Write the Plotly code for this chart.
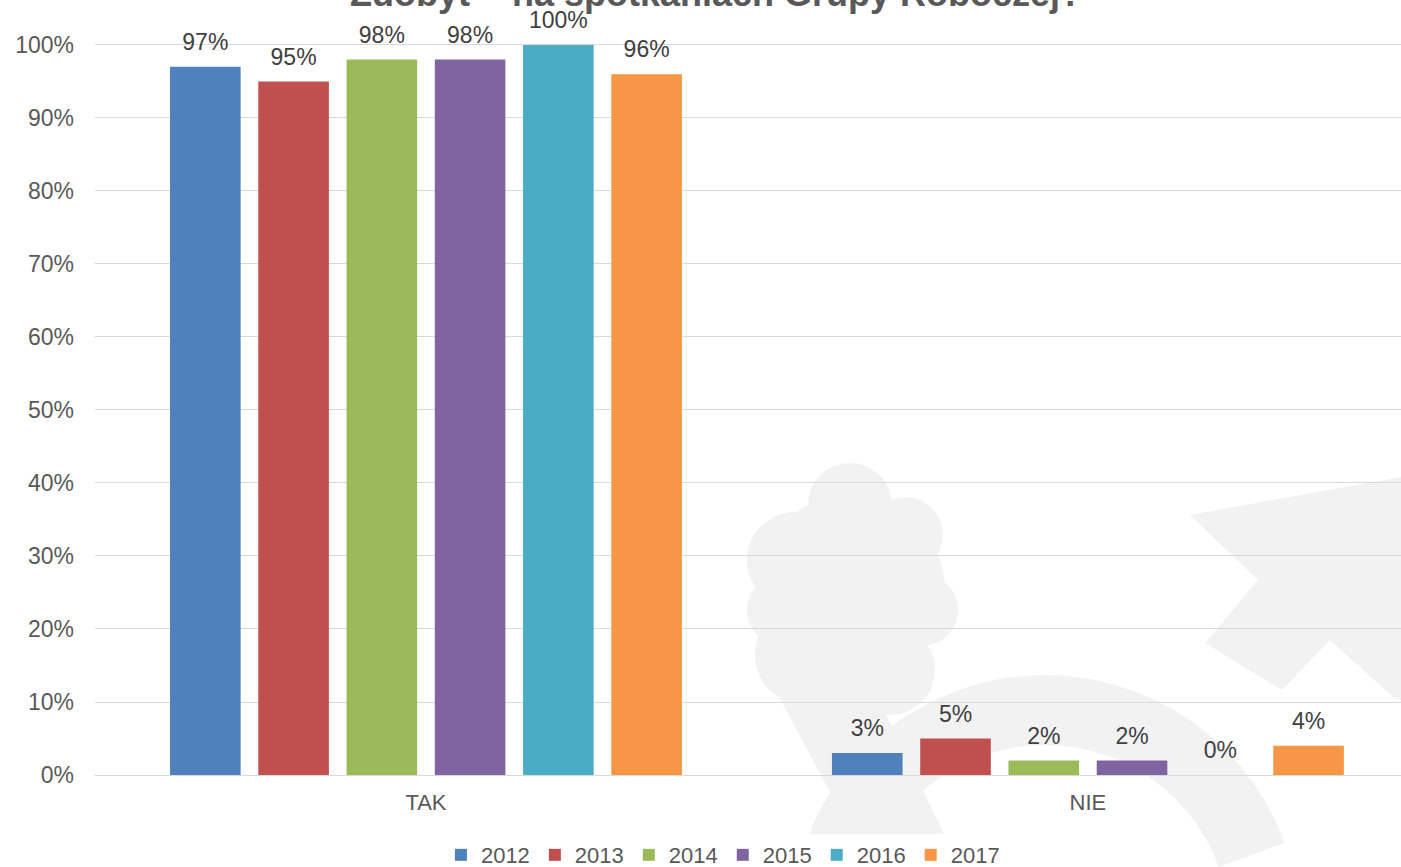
import math
import plotly.graph_objects as go

categories = ["TAK", "NIE"]
years = ["2012", "2013", "2014", "2015", "2016", "2017"]
values = {
    "2012": [0.97, 0.03],
    "2013": [0.95, 0.05],
    "2014": [0.98, 0.02],
    "2015": [0.98, 0.02],
    "2016": [1.00, 0.00],
    "2017": [0.96, 0.04],
}
colors = ["#4F81BD", "#C0504D", "#9BBB59", "#8064A2", "#4BACC6", "#F79646"]
title_text = "Zdobyt  - na spotkaniach Grupy Roboczej?"

FONT = "Liberation Sans, Arial, sans-serif"
TXT = "#595959"
LABEL_PAD = 0.012  # transparent spacer so value labels sit a little higher
Y_TOP = 1.015

fig = go.Figure()
for yr, col in zip(years, colors):
    vals = values[yr]
    fig.add_trace(go.Bar(
        name=yr, x=categories, y=vals, offsetgroup=yr,
        marker=dict(color=col, line=dict(width=0)),
        hoverinfo="y",
    ))
    fig.add_trace(go.Bar(
        name=yr, x=categories, y=[LABEL_PAD] * len(vals), base=vals,
        offsetgroup=yr, showlegend=False, hoverinfo="skip",
        marker=dict(color="rgba(0,0,0,0)", line=dict(width=0)),
        text=[f"{v:.0%}" for v in vals], textposition="outside",
        textfont=dict(family=FONT, size=23, color="#404040"),
        cliponaxis=False,
    ))

# light watermark (pixel positions -> paper coordinates)
L, R0, T, B = 95, 1401, 34, 775
def px(x):
    return (x - L) / (R0 - L)
def py(y):
    return (B - y) / (B - T)

WM = "#F2F2F2"
shapes = []
for cx, cy, r in [(850, 590, 95), (795, 560, 48), (850, 505, 42), (905, 535, 38),
                  (922, 610, 36), (805, 655, 50), (890, 670, 45), (782, 610, 35)]:
    shapes.append(dict(type="circle", xref="paper", yref="paper",
                       x0=px(cx - r), x1=px(cx + r), y0=py(cy + r), y1=py(cy - r),
                       fillcolor=WM, line=dict(width=0), layer="below"))
arrow = [(1190, 515), (1401, 477), (1401, 700), (1393, 697), (1330, 640),
         (1282, 690), (1205, 643), (1258, 580)]
path = "M " + " L ".join(f"{px(x)},{py(y)}" for x, y in arrow) + " Z"
shapes.append(dict(type="path", xref="paper", yref="paper", path=path,
                   fillcolor=WM, line=dict(width=0), layer="below"))
cxr, cyr, ro, ri = 1045, 930, 255, 185
outer = [(cxr + ro * math.cos(math.radians(a)), cyr - ro * math.sin(math.radians(a)))
         for a in range(165, 15, -5)]
inner = [(cxr + ri * math.cos(math.radians(a)), cyr - ri * math.sin(math.radians(a)))
         for a in range(20, 170, 5)]
path2 = "M " + " L ".join(f"{px(x)},{py(y)}" for x, y in outer + inner) + " Z"
shapes.append(dict(type="path", xref="paper", yref="paper", path=path2,
                   fillcolor=WM, line=dict(width=0), layer="below"))
band = [(770, 680), (850, 640), (960, 867), (870, 867)]
path3 = "M " + " L ".join(f"{px(x)},{py(y)}" for x, y in band) + " Z"
shapes.append(dict(type="path", xref="paper", yref="paper", path=path3,
                   fillcolor=WM, line=dict(width=0), layer="below"))

fig.update_layout(
    width=1401, height=867,
    margin=dict(l=95, r=0, t=34, b=92),
    paper_bgcolor="white", plot_bgcolor="rgba(0,0,0,0)",
    barmode="group", bargap=0.2, bargroupgap=0.2,
    font=dict(family=FONT, color=TXT, size=22),
    showlegend=True,
    legend=dict(orientation="h", xref="container", yref="container",
                x=0.516, xanchor="center", y=0.0138, yanchor="middle",
                font=dict(size=22, color=TXT), itemwidth=30,
                tracegroupgap=0, traceorder="normal"),
    shapes=shapes,
)
fig.update_xaxes(range=[-0.5, 1.473], showgrid=False, showline=False,
                 ticks="", ticklabelstandoff=12,
                 tickfont=dict(size=22, color=TXT), fixedrange=True)
fig.update_yaxes(range=[0, Y_TOP], tickformat=".0%", tick0=0, dtick=0.1,
                 showgrid=True, gridcolor="#D9D9D9", gridwidth=1,
                 zeroline=True, zerolinecolor="#D9D9D9", zerolinewidth=1,
                 showline=False, ticks="", ticklabelstandoff=20,
                 tickfont=dict(size=23, color=TXT), fixedrange=True)
fig.add_annotation(text="<b>" + title_text + "</b>", xref="paper", yref="paper",
                   x=px(716), y=py(-7), xanchor="center", yanchor="middle",
                   showarrow=False, font=dict(size=36, color=TXT, family=FONT))
fig.write_html("out.html", config={"displayModeBar": False},
               post_script="document.body.style.margin='0';")
